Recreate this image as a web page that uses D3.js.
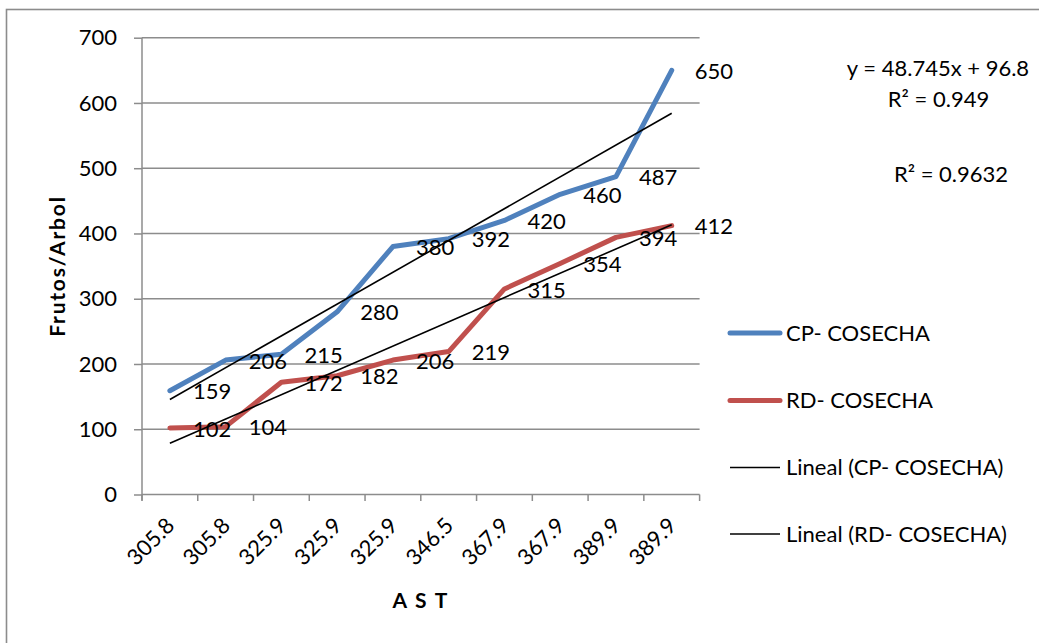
<!DOCTYPE html>
<html>
<head>
<meta charset="utf-8">
<script src="https://cdn.jsdelivr.net/npm/d3@7"></script>
<style>
  html, body { margin: 0; padding: 0; background: #fff; }
  svg { display: block; }
  text { font-family: Lato, "Open Sans", sans-serif; fill: #000; }
</style>
</head>
<body>
<script>
// Categories (AST values) and harvest series
const categories = ["305.8", "305.8", "325.9", "325.9", "325.9", "346.5", "367.9", "367.9", "389.9", "389.9"];
const cpCosecha = [159, 206, 215, 280, 380, 392, 420, 460, 487, 650];
const rdCosecha = [102, 104, 172, 182, 206, 219, 315, 354, 394, 412];
const yTicks = [0, 100, 200, 300, 400, 500, 600, 700];
const seriesNames = ["CP- COSECHA", "RD- COSECHA", "Lineal (CP- COSECHA)", "Lineal (RD- COSECHA)"];

const W = 1039, H = 643;
const plot = { left: 142, right: 699.6, top: 37.7, bottom: 494.5 };
const colors = { cp: "#4F81BD", rd: "#C0504D", grid: "#8c8c8c" };

const svg = d3.select("body").append("svg").attr("width", W).attr("height", H);

// chart frame
svg.append("rect")
  .attr("x", 6.5).attr("y", 9.5).attr("width", W).attr("height", H)
  .attr("fill", "none").attr("stroke", colors.grid).attr("stroke-width", 1.6);

const idx = d3.range(categories.length);
const x = d3.scaleBand().domain(idx).range([plot.left, plot.right]);
const cx = i => x(i) + x.bandwidth() / 2;
const y = d3.scaleLinear().domain([0, 700]).range([plot.bottom, plot.top]);

// gridlines
svg.append("g").selectAll("line").data(yTicks.filter(t => t > 0)).join("line")
  .attr("x1", plot.left).attr("x2", plot.right)
  .attr("y1", d => y(d)).attr("y2", d => y(d))
  .attr("stroke", colors.grid).attr("stroke-width", 1.5);

// y axis
const yAxis = svg.append("g").attr("transform", `translate(${plot.left},0)`)
  .call(d3.axisLeft(y).tickValues(yTicks).tickSize(8).tickPadding(17).tickFormat(d3.format("d")));
yAxis.select(".domain").attr("stroke", colors.grid).attr("stroke-width", 1.5)
  .attr("d", `M0,${plot.top}V${plot.bottom + 6}`);
yAxis.selectAll(".tick line").attr("stroke", colors.grid).attr("stroke-width", 1.5);
yAxis.selectAll(".tick text").attr("font-size", 22).attr("fill", "#000")
  .attr("font-family", "Lato, sans-serif");

// x axis with ticks at category boundaries
const bounds = d3.range(categories.length + 1).map(i => plot.left + i * x.bandwidth());
const xg = svg.append("g");
xg.append("line").attr("x1", plot.left).attr("x2", plot.right)
  .attr("y1", plot.bottom).attr("y2", plot.bottom)
  .attr("stroke", colors.grid).attr("stroke-width", 1.5);
xg.selectAll("line.tk").data(bounds).join("line").attr("class", "tk")
  .attr("x1", d => d).attr("x2", d => d)
  .attr("y1", plot.bottom).attr("y2", plot.bottom + 6.5)
  .attr("stroke", colors.grid).attr("stroke-width", 1.5);
xg.selectAll("text").data(idx).join("text")
  .attr("transform", i => `translate(${cx(i) + 6},527) rotate(-45)`)
  .attr("text-anchor", "end").attr("font-size", 22)
  .text(i => categories[i]);

// axis titles
svg.append("text").attr("x", (plot.left + plot.right) / 2).attr("y", 608)
  .attr("text-anchor", "middle").attr("font-size", 21).attr("font-weight", "bold")
  .attr("letter-spacing", "1.8px")
  .text("A S T");
svg.append("text")
  .attr("transform", `translate(65,${(plot.top + plot.bottom) / 2}) rotate(-90)`)
  .attr("text-anchor", "middle").attr("font-size", 21).attr("font-weight", "bold")
  .attr("letter-spacing", "1.8px")
  .text("Frutos/Arbol");

// least squares fit over category positions 1..n
function linearFit(vals) {
  const xs = vals.map((_, i) => i + 1);
  const mx = d3.mean(xs), my = d3.mean(vals);
  const sxy = d3.sum(xs, (v, i) => (v - mx) * (vals[i] - my));
  const sxx = d3.sum(xs, v => (v - mx) ** 2);
  const syy = d3.sum(vals, v => (v - my) ** 2);
  const slope = sxy / sxx;
  return { slope, intercept: my - slope * mx, r2: (sxy * sxy) / (sxx * syy) };
}
const fitCP = linearFit(cpCosecha), fitRD = linearFit(rdCosecha);

const line = d3.line().x(d => cx(d[0])).y(d => y(d[1]));

// series lines
[[cpCosecha, colors.cp], [rdCosecha, colors.rd]].forEach(([vals, c]) => {
  svg.append("path").datum(vals.map((v, i) => [i, v]))
    .attr("d", line).attr("fill", "none").attr("stroke", c)
    .attr("stroke-width", 5).attr("stroke-linejoin", "round").attr("stroke-linecap", "round");
});

// trendlines
[fitCP, fitRD].forEach(f => {
  const n = categories.length;
  svg.append("path").datum([[0, f.intercept + f.slope], [n - 1, f.intercept + f.slope * n]])
    .attr("d", line).attr("fill", "none").attr("stroke", "#000").attr("stroke-width", 1.6);
});

// data labels to the right of each point
[cpCosecha, rdCosecha].forEach(vals => {
  svg.append("g").selectAll("text").data(vals).join("text")
    .attr("x", (d, i) => cx(i) + 23).attr("y", d => y(d) + 1)
    .attr("dy", "0.35em").attr("font-size", 22)
    .text(d => d);
});

// trendline equations
const fmtCoef = d3.format(".5~g"), fmtR2 = d3.format(".4~f");
svg.append("text").attr("x", 938).attr("y", 76).attr("text-anchor", "middle").attr("font-size", 22)
  .text(`y = ${fmtCoef(fitCP.slope)}x + ${fmtCoef(fitCP.intercept)}`);
svg.append("text").attr("x", 938.5).attr("y", 107).attr("text-anchor", "middle").attr("font-size", 22)
  .text(`R² = ${fmtR2(fitCP.r2)}`);
svg.append("text").attr("x", 951).attr("y", 182).attr("text-anchor", "middle").attr("font-size", 22)
  .text(`R² = ${fmtR2(fitRD.r2)}`);

// legend
const legend = svg.append("g");
const legY = [333, 400.5, 467.5, 534];
const legStyle = [
  { c: colors.cp, w: 5, cap: "round" },
  { c: colors.rd, w: 5, cap: "round" },
  { c: "#000", w: 1.6, cap: "butt" },
  { c: "#000", w: 1.6, cap: "butt" }
];
seriesNames.forEach((name, i) => {
  legend.append("line").attr("x1", 730).attr("x2", 780)
    .attr("y1", legY[i]).attr("y2", legY[i])
    .attr("stroke", legStyle[i].c).attr("stroke-width", legStyle[i].w).attr("stroke-linecap", legStyle[i].cap);
  legend.append("text").attr("x", 786).attr("y", legY[i]).attr("dy", "0.35em")
    .attr("font-size", 22).text(name);
});
</script>
</body>
</html>
